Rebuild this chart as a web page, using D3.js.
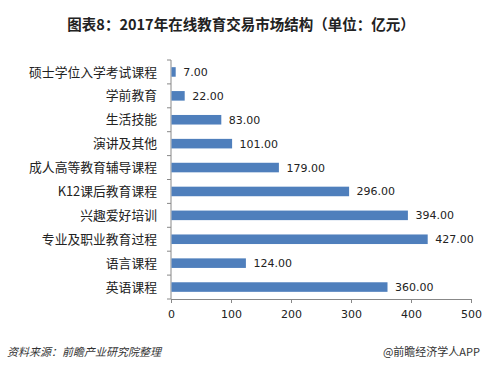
<html>
<head>
    <meta charset="utf-8">
    <script src="https://cdn.jsdelivr.net/npm/d3@7"></script>
    <style>
        body { margin: 0; background: #fff; }
    </style>
</head>
<body>
    <script type="text/javascript">
        var width = 489;
        var height = 372;

        // top to bottom
        var categories = ["硕士学位入学考试课程", "学前教育", "生活技能", "演讲及其他", "成人高等教育辅导课程",
            "K12课后教育课程", "兴趣爱好培训", "专业及职业教育过程", "语言课程", "英语课程"];
        var values = [7, 22, 83, 101, 179, 296, 394, 427, 124, 360];
        var xTicks = [0, 100, 200, 300, 400, 500];

        var margin = { left: 171, right: 18, top: 60, bottom: 73 };
        var cjk = "'Noto Sans CJK SC', sans-serif";

        const svg = d3.select("body").append("svg")
            .attr("width", width)
            .attr("height", height);

        svg.append("rect").attr("width", width).attr("height", height).attr("fill", "#fff");

        svg.append("text")
            .attr("x", 241)
            .attr("y", 30)
            .attr("text-anchor", "middle")
            .style("font-family", cjk)
            .style("font-weight", "bold")
            .style("font-size", "14.5px")
            .attr("fill", "#222")
            .text("图表8：2017年在线教育交易市场结构（单位：亿元）");

        var xScale = d3.scaleLinear([0, 500], [margin.left, width - margin.right]);
        var yScale = d3.scaleBand(categories, [margin.top, height - margin.bottom]).paddingInner(0.6).paddingOuter(0.3);

        // axes
        var xAxis = d3.axisBottom(xScale).tickValues(xTicks).tickSize(4).tickSizeOuter(0).tickFormat(d3.format("d"));
        var gx = svg.append("g")
            .attr("transform", `translate(0, ${height - margin.bottom})`)
            .call(xAxis);
        gx.select(".domain").attr("stroke", "#888");
        gx.selectAll(".tick line").attr("stroke", "#888");
        gx.selectAll(".tick text")
            .attr("dy", "1.1em")
            .attr("fill", "#222")
            .style("font-family", "'DejaVu Sans', sans-serif")
            .style("font-size", "11px");

        var gy = svg.append("g").attr("transform", `translate(${margin.left}, 0)`);
        gy.append("line")
            .attr("x1", 0).attr("x2", 0)
            .attr("y1", margin.top).attr("y2", height - margin.bottom)
            .attr("stroke", "#888");
        // tick marks at band boundaries
        var bounds = d3.range(categories.length + 1).map(i => margin.top + (height - margin.top - margin.bottom) * i / categories.length);
        gy.selectAll("line.tk")
            .data(bounds)
            .join("line")
            .attr("class", "tk")
            .attr("x1", -4).attr("x2", 0)
            .attr("y1", d => d).attr("y2", d => d)
            .attr("stroke", "#888");

        svg.append("g")
            .selectAll("text")
            .data(categories)
            .join("text")
            .attr("x", 157)
            .attr("y", d => yScale(d) + yScale.bandwidth() / 2)
            .attr("dy", "0.36em")
            .attr("text-anchor", "end")
            .style("font-family", cjk)
            .style("font-size", "12.8px")
            .attr("fill", "#222")
            .text(d => d);

        svg.append("g")
            .selectAll("rect")
            .data(values)
            .join("rect")
            .attr("x", xScale(0) + 0.5)
            .attr("y", (d, i) => yScale(categories[i]))
            .attr("width", d => xScale(d) - xScale(0))
            .attr("height", yScale.bandwidth())
            .attr("fill", "#4f7fbc");

        svg.append("g")
            .selectAll("text")
            .data(values)
            .join("text")
            .attr("x", d => xScale(d) + 8)
            .attr("y", (d, i) => yScale(categories[i]) + yScale.bandwidth() / 2)
            .attr("dy", "0.36em")
            .style("font-family", "'DejaVu Sans', sans-serif")
            .style("font-size", "11px")
            .attr("fill", "#222")
            .text(d => d.toFixed(2));

        // footer
        svg.append("text")
            .attr("x", 7)
            .attr("y", 356)
            .style("font-family", cjk)
            .style("font-style", "italic")
            .style("font-size", "11px")
            .attr("fill", "#333")
            .text("资料来源：前瞻产业研究院整理");

        svg.append("text")
            .attr("x", 480)
            .attr("y", 356)
            .attr("text-anchor", "end")
            .style("font-family", cjk)
            .style("font-size", "11px")
            .attr("fill", "#333")
            .text("@前瞻经济学人APP");
    </script>
</body>
</html>
